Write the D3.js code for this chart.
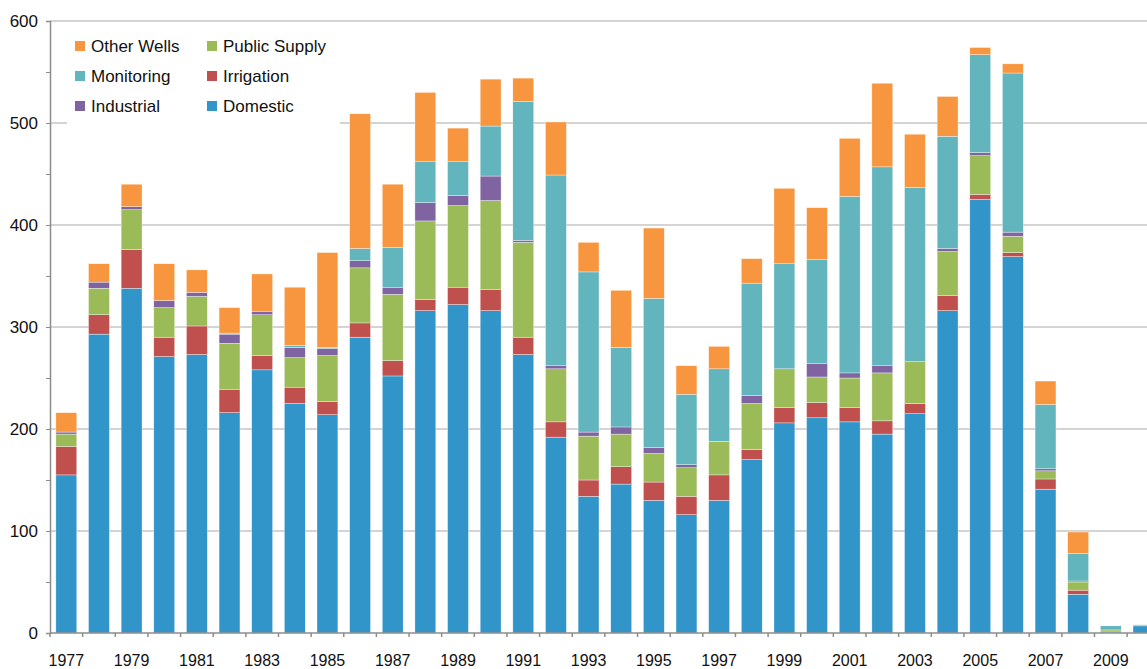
<!DOCTYPE html>
<html>
<head>
<meta charset="utf-8">
<script src="https://cdn.jsdelivr.net/npm/d3@7"></script>
<style>
  body { margin: 0; background: #fff; }
  svg { display: block; font-family: Arial, "Liberation Sans", sans-serif; }
</style>
</head>
<body>
<svg id="chart" width="1147" height="669"></svg>
<script>
// wells drilled per year, by type
var years = d3.range(1977, 2011);
var domestic     = [155,293,338,271,273,216,258,225,214,290,252,316,322,316,273,192,134,146,130,116,130,170,206,211,207,195,215,316,425,369,141,38,1,7];
var irrigation   = [28,19,38,19,28,23,14,16,13,14,15,11,17,21,17,15,16,17,18,18,25,10,15,15,14,13,10,15,5,4,10,4,0,0];
var publicSupply = [12,26,39,29,29,45,40,29,45,54,65,77,80,87,93,52,43,32,28,28,33,45,38,25,29,47,41,43,38,16,8,8,2,1];
var industrial   = [2,6,3,7,4,9,3,10,7,7,7,18,10,24,2,3,4,7,6,3,0,8,0,13,5,7,0,3,3,4,2,1,0,0];
var monitoring   = [0,0,0,0,0,1,0,2,1,12,39,40,33,49,136,187,157,78,146,69,71,110,103,102,173,195,171,110,96,156,63,27,4,0];
var otherWells   = [19,18,22,36,22,25,37,57,93,132,62,68,33,46,23,52,29,56,69,28,22,24,74,51,57,82,52,39,7,9,23,21,0,0];

var seriesKeys = ["Domestic", "Irrigation", "Public Supply", "Industrial", "Monitoring", "Other Wells"];
var seriesVals = [domestic, irrigation, publicSupply, industrial, monitoring, otherWells];
var yTicks = [0, 100, 200, 300, 400, 500, 600];
var xLabels = years.filter(function(y){ return y % 2 === 1; });

var colors = {
	"Domestic": "#3195c9",
	"Irrigation": "#c0504d",
	"Public Supply": "#9bbb59",
	"Industrial": "#8064a2",
	"Monitoring": "#62b4bd",
	"Other Wells": "#f7963f"
};

// legend order as in the picture (two columns, three rows)
var legendOrder = ["Other Wells", "Public Supply", "Monitoring", "Irrigation", "Industrial", "Domestic"];

var rows = years.map(function(yr, i){
	var r = {year: yr};
	seriesKeys.forEach(function(k, j){ r[k] = seriesVals[j][i]; });
	return r;
});

var svg = d3.select("#chart");
var plotLeft = 50, plotTop = 21, plotBase = 633;
var step = 32.64;

var x = d3.scaleBand()
	.domain(years)
	.range([plotLeft, plotLeft + step * years.length])
	.paddingInner(0.36)
	.paddingOuter(0.18);

var y = d3.scaleLinear().domain([0, 600]).range([plotBase, plotTop]);

// gridlines
svg.append("g").selectAll("line")
	.data(yTicks.filter(function(d){ return d > 0; }))
	.enter().append("line")
	.attr("x1", plotLeft)
	.attr("x2", 1147)
	.attr("y1", function(d){ return y(d); })
	.attr("y2", function(d){ return y(d); })
	.attr("stroke", "#a9a9a9")
	.attr("stroke-width", 1.2);

// bars
var stacked = d3.stack().keys(seriesKeys)(rows);

svg.append("g").selectAll("g")
	.data(stacked)
	.enter().append("g")
	.attr("fill", function(d){ return colors[d.key]; })
	.selectAll("rect")
	.data(function(d){ return d; })
	.enter().append("rect")
	.attr("x", function(d){ return x(d.data.year); })
	.attr("width", x.bandwidth())
	.attr("y", function(d){ return y(d[1]); })
	.attr("height", function(d){ return y(d[0]) - y(d[1]); })
	.attr("stroke", "#ffffff")
	.attr("stroke-width", 0.5)
	.attr("stroke-opacity", 0.7);

// y axis
var yAxis = svg.append("g")
	.attr("transform", "translate(" + plotLeft + ",0)")
	.call(d3.axisLeft(y).tickValues(d3.range(0, 601, 50)).tickSize(4).tickFormat(""));
yAxis.select(".domain").attr("stroke", "#8c8c8c").attr("stroke-width", 1.5);
yAxis.selectAll(".tick line").attr("stroke", "#8c8c8c");

svg.append("g").selectAll("text")
	.data(yTicks)
	.enter().append("text")
	.attr("x", plotLeft - 12)
	.attr("y", function(d){ return y(d); })
	.attr("dy", "0.35em")
	.attr("text-anchor", "end")
	.attr("font-size", 17)
	.attr("fill", "#111")
	.text(function(d){ return d; });

// x axis baseline and boundary ticks
svg.append("line")
	.attr("x1", plotLeft).attr("x2", 1147)
	.attr("y1", plotBase).attr("y2", plotBase)
	.attr("stroke", "#8c8c8c")
	.attr("stroke-width", 1.5);

svg.append("g").selectAll("line")
	.data(years)
	.enter().append("line")
	.attr("x1", function(d){ return x(d) - x.step() * x.paddingOuter(); })
	.attr("x2", function(d){ return x(d) - x.step() * x.paddingOuter(); })
	.attr("y1", plotBase)
	.attr("y2", plotBase + 4)
	.attr("stroke", "#8c8c8c")
	.attr("stroke-width", 1.5);

svg.append("g").selectAll("text")
	.data(xLabels)
	.enter().append("text")
	.attr("x", function(d){ return x(d) + x.bandwidth() / 2; })
	.attr("y", plotBase + 33)
	.attr("text-anchor", "middle")
	.attr("font-size", 16)
	.attr("fill", "#111")
	.text(function(d){ return d; });

// legend
var legend = svg.append("g");
legend.append("rect")
	.attr("x", 67).attr("y", 28)
	.attr("width", 273).attr("height", 97)
	.attr("fill", "#fff");

legendOrder.forEach(function(k, i){
	var col = i % 2, row = Math.floor(i / 2);
	var lx = col === 0 ? 75 : 207;
	var ly = 46 + row * 30;
	legend.append("rect")
		.attr("x", lx).attr("y", ly - 5)
		.attr("width", 10).attr("height", 10)
		.attr("fill", colors[k]);
	legend.append("text")
		.attr("x", lx + 16).attr("y", ly)
		.attr("dy", "0.35em")
		.attr("font-size", 17)
		.attr("fill", "#111")
		.text(k);
});
</script>
</body>
</html>
